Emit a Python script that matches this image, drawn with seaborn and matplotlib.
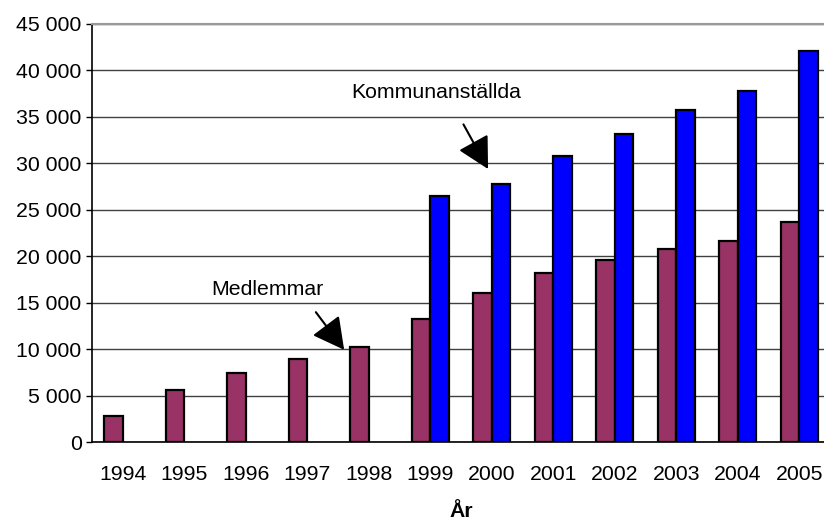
import pandas as pd
import numpy as np
import matplotlib
matplotlib.use("Agg")
import matplotlib.pyplot as plt
import seaborn as sns
from matplotlib.ticker import FuncFormatter, FixedLocator

# DATA

years = ["1994", "1995", "1996", "1997", "1998", "1999",
         "2000", "2001", "2002", "2003", "2004", "2005"]
medlemmar = [2800, 5600, 7500, 9000, 10300, 13300,
             16100, 18200, 19600, 20800, 21700, 23700]
kommunanstallda = [np.nan, np.nan, np.nan, np.nan, np.nan, 26500,
                   27800, 30800, 33200, 35700, 37800, 42100]
series = ["Medlemmar", "Kommunanställda"]
colors = {"Medlemmar": "#993366", "Kommunanställda": "#0000FF"}

df = pd.DataFrame({
    "År": years * 2,
    "Antal": medlemmar + kommunanstallda,
    "Serie": [series[0]] * len(years) + [series[1]] * len(years),
})
df = df.dropna()

# STYLE

sns.set_style("white")
plt.rcParams["font.family"] = ["Liberation Sans", "DejaVu Sans"]
plt.rcParams["text.color"] = "black"
plt.rcParams["xtick.color"] = "black"
plt.rcParams["ytick.color"] = "black"
plt.rcParams["axes.labelcolor"] = "black"

FS = 15.3

# PLOT

fig = plt.figure(figsize=(8.24, 5.23), dpi=100)
ax = fig.add_axes([92 / 824, 80.7 / 523, 738 / 824, 418.3 / 523])

sns.barplot(
    data=df,
    x="År",
    y="Antal",
    hue="Serie",
    hue_order=series,
    order=years,
    palette=colors,
    saturation=1,
    width=0.6,
    errorbar=None,
    edgecolor="black",
    linewidth=1.6,
    legend=False,
    ax=ax,
    zorder=3,
)

ax.set_xlim(-0.5, len(years) - 0.5)
ax.set_ylim(0, 45000)
ax.set_yticks(range(0, 45001, 5000))
ax.yaxis.set_major_formatter(FuncFormatter(lambda v, p: f"{int(v):,}".replace(",", " ")))
ax.grid(axis="y", color="#404040", linewidth=1, zorder=0)
ax.set_axisbelow(True)

# ticks between the year groups
ax.xaxis.set_minor_locator(FixedLocator(np.arange(-0.5, len(years), 1.0)))
ax.tick_params(axis="x", which="major", length=0, pad=16, labelsize=FS)
ax.tick_params(axis="x", which="minor", length=4.5, width=1, direction="out", color="black")
ax.tick_params(axis="y", which="major", length=4.5, width=1, direction="out",
               color="black", pad=3, labelsize=FS)
ax.tick_params(left=True, bottom=True)

for side in ["left", "bottom"]:
    ax.spines[side].set_color("black")
    ax.spines[side].set_linewidth(1.2)
ax.spines["top"].set_color("#999999")
ax.spines["top"].set_linewidth(1.5)
ax.spines["right"].set_visible(False)

ax.set_ylabel("")
ax.set_xlabel("År", fontsize=FS, fontweight="bold", labelpad=13.5)

# ANNOTATIONS

arrow = dict(arrowstyle="-|>,head_length=0.75,head_width=0.4",
             color="black", lw=1.5, mutation_scale=26, shrinkA=0, shrinkB=0)
ax.annotate("", xy=(5.94, 29400), xytext=(5.54, 34200), arrowprops=arrow)
ax.text(5.10, 37600, "Kommunanställda", fontsize=FS, ha="center", va="center")
ax.annotate("", xy=(3.60, 9950), xytext=(3.14, 14000), arrowprops=arrow)
ax.text(2.35, 16400, "Medlemmar", fontsize=FS, ha="center", va="center")

plt.savefig("out.png", dpi=100)
